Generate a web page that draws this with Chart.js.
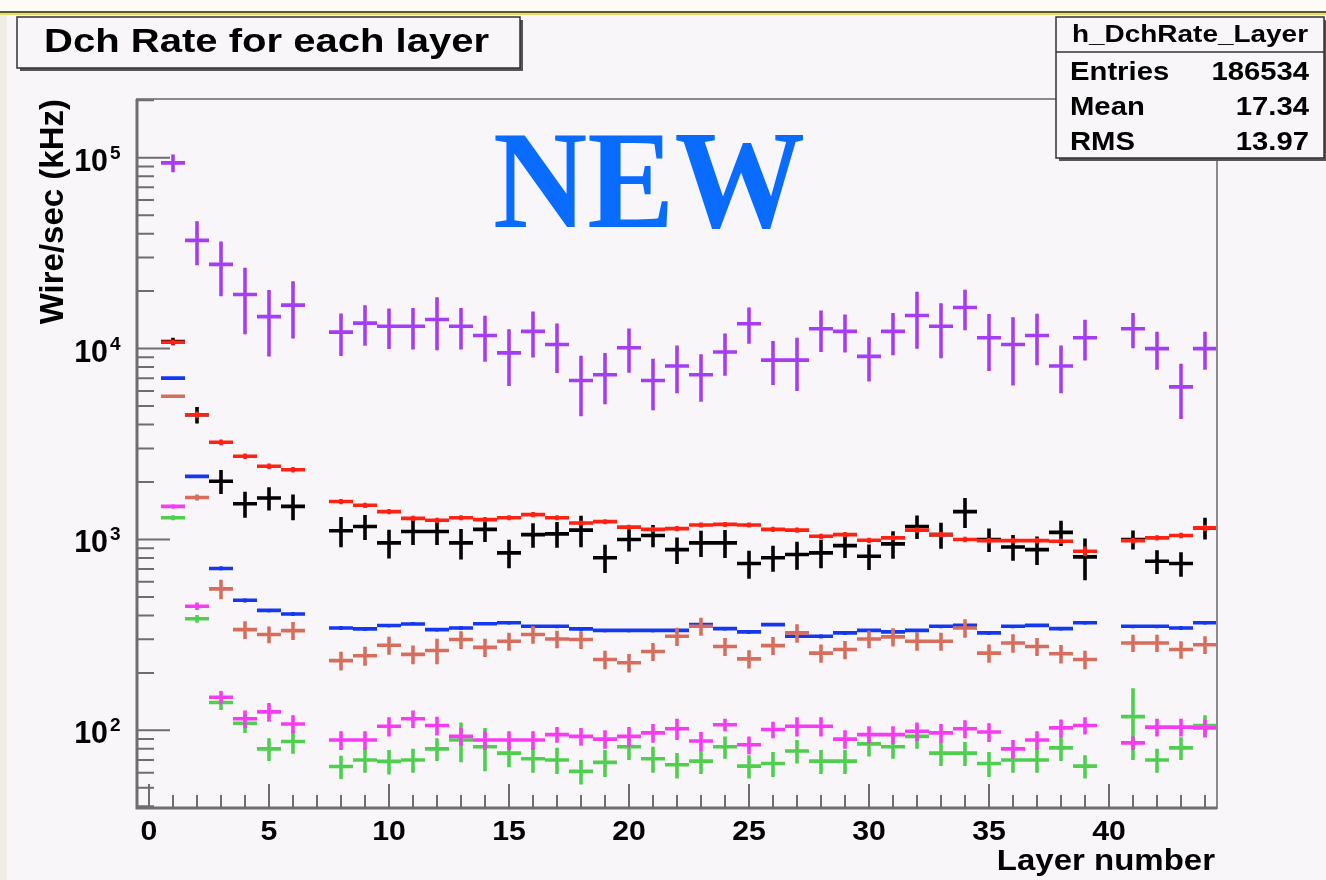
<!DOCTYPE html>
<html>
<head>
<meta charset="utf-8">
<script src="https://cdn.jsdelivr.net/npm/chart.js@4.4.1/dist/chart.umd.min.js"></script>
<style>
  html, body { margin: 0; padding: 0; background: #f8f6f9; }
  #wrap { width: 1326px; height: 880px; }
</style>
</head>
<body>
<div id="wrap"><canvas id="rate" width="1326" height="880"></canvas></div>
<script>
// layer numbers (x), null = empty bin
const layers = [1, 2, 3, 4, 5, 6, 7, 8, 9, 10, 11, 12, 13, 14, 15, 16, 17, 18, 19, 20, 21, 22,
    23, 24, 25, 26, 27, 28, 29, 30, 31, 32, 33, 34, 35, 36, 37, 38, 39, 40, 41, 42, 43, 44];

// rates per layer (kHz) and their errors
const violetRate = [94000, 36900, 27600, 19200, 14700, 16900, null, 12200, 13600, 13100, 13100, 14200, 13100, 11700, 9500, 12300, 10500, 6800, 7300, 10100, 6800, 8100, 7300, 9600, 13500, 8700, 8700, 12700, 12300, 9100, 12300, 14900, 13100, 16400, 11400, 10500, 11700, 8100, 11400, null, 12700, 10000, 6300, 10000];
const violetErr = [10000, 9600, 8800, 7300, 5600, 5600, null, 3050, 3260, 3140, 3200, 4400, 3200, 3160, 3140, 3320, 3050, 2380, 2190, 2630, 2040, 2270, 2040, 2400, 2900, 2260, 2700, 3110, 2770, 2370, 3080, 4920, 4190, 3940, 3760, 4100, 3510, 2270, 2740, null, 2670, 2250, 2020, 2250];

const blackRate = [10900, 4500, 2020, 1540, 1650, 1490, null, 1110, 1170, 960, 1100, 1100, 960, 1130, 851, 1060, 1070, 1120, 802, 1000, 1050, 885, 960, 960, 748, 802, 834, 851, 929, 817, 948, 1170, 1060, 1400, 1000, 914, 885, 1090, 811, null, 1000, 769, 748, 1150];
const blackErr = [500, 450, 290, 240, 230, 230, null, 200, 175, 165, 165, 165, 175, 160, 145, 155, 165, 210, 135, 135, 140, 140, 150, 160, 125, 125, 140, 145, 130, 125, 155, 165, 165, 250, 140, 140, 150, 165, 200, null, 115, 110, 110, 150];

const redRate = [10800, 4500, 3230, 2730, 2420, 2320, null, 1580, 1510, 1400, 1290, 1260, 1300, 1270, 1300, 1350, 1300, 1220, 1240, 1160, 1130, 1140, 1190, 1200, 1190, 1130, 1120, 1040, 1060, 990, 1020, 1120, 1060, 1000, 986, 986, 986, 979, 868, null, 986, 1020, 1050, 1150];
const redErr = [330, 180, 110, 90, 80, 75, null, 50, 48, 45, 40, 40, 40, 40, 40, 42, 40, 38, 38, 36, 35, 35, 36, 36, 36, 35, 35, 33, 33, 32, 32, 35, 33, 32, 32, 32, 32, 32, 50, null, 32, 33, 34, 45];

const blueRate = [7000, 2140, 705, 480, 425, 407, null, 344, 340, 354, 361, 337, 344, 362, 366, 351, 351, 340, 334, 334, 334, 334, 358, 341, 328, 358, 311, 311, 324, 334, 328, 334, 351, 355, 324, 351, 355, 341, 366, null, 351, 351, 344, 366];
const blueErr = [70, 40, 18, 12, 10, 10, null, 8, 8, 8, 8, 8, 8, 8, 8, 8, 8, 8, 8, 8, 8, 8, 8, 8, 8, 8, 8, 8, 8, 8, 8, 8, 8, 8, 8, 8, 8, 8, 8, null, 8, 8, 8, 8];

const salmonRate = [5630, 1660, 551, 337, 318, 333, null, 232, 246, 279, 250, 262, 299, 272, 293, 318, 301, 299, 235, 226, 259, 311, 351, 275, 237, 278, 324, 254, 265, 301, 309, 293, 293, 344, 254, 287, 275, 252, 235, null, 287, 287, 265, 281];
const salmonErr = [110, 60, 65, 36, 32, 36, null, 26, 28, 30, 28, 40, 32, 30, 32, 34, 32, 32, 26, 25, 28, 34, 38, 30, 26, 30, 36, 28, 29, 32, 34, 32, 32, 38, 28, 32, 30, 28, 26, null, 30, 30, 28, 30];

const greenRate = [1300, 384, 140, 109, 80, 87.5, null, 64.7, 70, 68.8, 70, 80, 89, 82, 76, 71, 70, 61, 68, 82, 71, 66, 69, 82, 65, 67, 78, 69, 69, 85, 82, 93, 76, 76, 67, 70, 70, 81, 65, null, 118, 70, 81, 106];
const greenErr = [40, 18, 12, 12, 11, 12, null, 9, 10, 10, 10, 11, 21, 21, 12, 11, 11, 9, 11, 12, 11, 10, 10, 11, 9, 10, 11, 10, 10, 12, 11, 13, 11, 11, 10, 10, 10, 12, 9, null, 48, 10, 11, 14];

const magentaRate = [1490, 447, 149, 115, 125, 108, null, 89, 89, 105, 115, 106, 93, 89, 89, 89, 95, 93, 90, 93, 97, 102, 88, 107, 84, 101, 105, 105, 90, 95, 95, 99, 97, 102, 98, 80, 89, 103, 106, null, 86, 104, 104, 103];
const magentaErr = [40, 20, 12, 12, 14, 12, null, 10, 10, 12, 12, 12, 10, 10, 10, 10, 9, 10, 10, 11, 11, 13, 10, 8, 9, 10, 12, 12, 10, 10, 10, 11, 11, 11, 11, 9, 10, 11, 11, null, 7, 11, 11, 11];

// axis labels and stats box
const xTickLabels = [0, 5, 10, 15, 20, 25, 30, 35, 40];
const yDecades = [2, 3, 4, 5];
const statNames = ['Entries', 'Mean', 'RMS'];
const statValues = ['186534', '17.34', '13.97'];

const FONT = '"Liberation Sans", Arial, Helvetica, sans-serif';

function toPoints(values, errs) {
    const pts = [];
    layers.forEach((l, i) => {
        if (values[i] != null) pts.push({ x: l, y: values[i], e: errs[i] });
    });
    return pts;
}

function series(label, values, errs, color) {
    return {
        label: label,
        data: toPoints(values, errs),
        borderColor: color,
        backgroundColor: color,
        pointRadius: 0,
        showLine: false
    };
}

function drawText(ctx, text, x, y, font, align, sx, color) {
    ctx.save();
    ctx.font = font;
    ctx.fillStyle = color || '#000';
    ctx.textAlign = 'left';
    ctx.textBaseline = 'alphabetic';
    const w = ctx.measureText(text).width * sx;
    const left = align === 'right' ? x - w : (align === 'center' ? x - w / 2 : x);
    ctx.translate(left, y);
    ctx.scale(sx, 1);
    ctx.fillText(text, 0, 0);
    ctx.restore();
}

function fitText(ctx, text, x, y, font, width, color) {
    ctx.save();
    ctx.font = font;
    const sx = width / ctx.measureText(text).width;
    ctx.restore();
    drawText(ctx, text, x, y, font, 'left', sx, color);
}

function shadowBox(ctx, x0, y0, x1, y1) {
    ctx.fillStyle = '#555';
    ctx.fillRect(x0 + 3, y1, x1 - x0, 3);
    ctx.fillRect(x1, y0 + 3, 3, y1 - y0);
    ctx.fillStyle = '#f8f6f9';
    ctx.fillRect(x0, y0, x1 - x0, y1 - y0);
    ctx.strokeStyle = '#333';
    ctx.lineWidth = 1.5;
    ctx.strokeRect(x0, y0, x1 - x0, y1 - y0);
}

const rootStyle = {
    id: 'rootStyle',
    beforeDraw(chart) {
        const ctx = chart.ctx;
        ctx.save();
        ctx.fillStyle = '#f8f6f9';
        ctx.fillRect(0, 0, chart.width, chart.height);
        ctx.fillStyle = '#fcfbf8';
        ctx.fillRect(0, 0, chart.width, 11);
        ctx.fillStyle = '#efede6';
        ctx.fillRect(0, 11, 7, chart.height);
        ctx.fillStyle = '#5e5a20';
        ctx.fillRect(0, 11, chart.width, 2);
        ctx.fillStyle = '#e6df6a';
        ctx.fillRect(0, 13, chart.width, 2);
        ctx.restore();
    },
    afterDatasetsDraw(chart) {
        const ctx = chart.ctx;
        const xs = chart.scales.x, ys = chart.scales.y;
        const a = chart.chartArea;
        ctx.save();
        ctx.beginPath();
        ctx.rect(a.left, a.top, a.right - a.left, a.bottom - a.top);
        ctx.clip();
        ctx.lineWidth = 3.6;
        ctx.lineCap = 'butt';
        chart.data.datasets.forEach(ds => {
            ctx.strokeStyle = ds.borderColor;
            ds.data.forEach(p => {
                const px = xs.getPixelForValue(p.x);
                const x0 = xs.getPixelForValue(p.x - 0.5);
                const x1 = xs.getPixelForValue(p.x + 0.5);
                const py = ys.getPixelForValue(p.y);
                const yt = ys.getPixelForValue(p.y + p.e);
                const yb = ys.getPixelForValue(Math.max(p.y - p.e, 1));
                ctx.beginPath();
                ctx.moveTo(x0, py);
                ctx.lineTo(x1, py);
                ctx.moveTo(px, yt);
                ctx.lineTo(px, yb);
                ctx.stroke();
            });
        });
        ctx.restore();
    },
    afterDraw(chart) {
        const ctx = chart.ctx;
        const xs = chart.scales.x, ys = chart.scales.y;
        const a = chart.chartArea;
        ctx.save();

        // frame
        ctx.strokeStyle = '#8a8a8a';
        ctx.lineWidth = 2;
        ctx.strokeRect(a.left, a.top, a.right - a.left, a.bottom - a.top);
        ctx.strokeStyle = '#6e6e6e';
        ctx.lineWidth = 3;
        ctx.beginPath();
        ctx.moveTo(a.left, a.top);
        ctx.lineTo(a.left, a.bottom);
        ctx.lineTo(a.right, a.bottom);
        ctx.stroke();

        // ticks
        ctx.strokeStyle = '#6e6e6e';
        ctx.lineWidth = 2;
        ctx.beginPath();
        for (let k = 0; k <= 44; k++) {
            const px = xs.getPixelForValue(k);
            const len = k % 5 === 0 ? 24 : 13;
            ctx.moveTo(px, a.bottom);
            ctx.lineTo(px, a.bottom - len);
        }
        for (let e = 1; e <= 5; e++) {
            for (let m = 1; m <= 9; m++) {
                const v = m * Math.pow(10, e);
                if (v < ys.min || v > ys.max) continue;
                const py = ys.getPixelForValue(v);
                ctx.moveTo(a.left, py);
                ctx.lineTo(a.left + (m === 1 ? 33 : 17), py);
            }
        }
        ctx.stroke();

        // tick labels
        xTickLabels.forEach(v => {
            drawText(ctx, String(v), xs.getPixelForValue(v), 840, 'bold 28px ' + FONT, 'center', 1.08);
        });
        yDecades.forEach(e => {
            const py = ys.getPixelForValue(Math.pow(10, e));
            drawText(ctx, '10', 108, py + 13, 'bold 31px ' + FONT, 'right', 0.98);
            drawText(ctx, String(e), 110, py + 1, 'bold 19px ' + FONT, 'left', 1.0);
        });

        // axis titles
        drawText(ctx, 'Layer number', 1215, 870, 'bold 30px ' + FONT, 'right', 1.1);
        ctx.save();
        ctx.translate(63, 99);
        ctx.rotate(-Math.PI / 2);
        ctx.font = 'bold 33px ' + FONT;
        ctx.fillStyle = '#000';
        ctx.textAlign = 'right';
        ctx.textBaseline = 'alphabetic';
        ctx.fillText('Wire/sec (kHz)', 0, 0);
        ctx.restore();

        // title box
        shadowBox(ctx, 17, 17, 520, 68);
        fitText(ctx, 'Dch Rate for each layer', 44, 52, 'bold 33px ' + FONT, 445);

        // stats box
        shadowBox(ctx, 1056, 17, 1324, 158);
        ctx.strokeStyle = '#333';
        ctx.lineWidth = 1.5;
        ctx.beginPath();
        ctx.moveTo(1056, 52);
        ctx.lineTo(1324, 52);
        ctx.stroke();
        fitText(ctx, 'h_DchRate_Layer', 1072, 42, 'bold 23px ' + FONT, 236);
        statNames.forEach((n, i) => {
            const y = 80 + i * 35;
            drawText(ctx, n, 1070, y, 'bold 25px ' + FONT, 'left', 1.17);
            drawText(ctx, statValues[i], 1309, y, 'bold 25px ' + FONT, 'right', 1.17);
        });

        // overlay label
        ctx.save();
        ctx.font = 'bold 140px "Liberation Serif", "Times New Roman", serif';
        const w = ctx.measureText('NEW').width;
        ctx.restore();
        drawText(ctx, 'NEW', 493, 227, 'bold 140px "Liberation Serif", "Times New Roman", serif', 'left', 312 / w, '#0a6cff');

        ctx.restore();
    }
};

const rateChart = new Chart(document.getElementById('rate').getContext('2d'), {
    type: 'scatter',
    data: {
        datasets: [
            series('violet', violetRate, violetErr, '#a53df5'),
            series('black', blackRate, blackErr, '#000000'),
            series('red', redRate, redErr, '#ff2212'),
            series('blue', blueRate, blueErr, '#1438f0'),
            series('salmon', salmonRate, salmonErr, '#d66e5e'),
            series('green', greenRate, greenErr, '#4fce4f'),
            series('magenta', magentaRate, magentaErr, '#f53cf2')
        ]
    },
    options: {
        responsive: false,
        animation: false,
        devicePixelRatio: 1,
        layout: { padding: { left: 137, top: 99, right: 109, bottom: 72 } },
        plugins: {
            legend: { display: false },
            tooltip: { enabled: false }
        },
        scales: {
            x: { type: 'linear', min: -0.5, max: 44.5, display: false },
            y: { type: 'logarithmic', min: 39.2, max: 203000, display: false }
        }
    },
    plugins: [rootStyle]
});
</script>
</body>
</html>
